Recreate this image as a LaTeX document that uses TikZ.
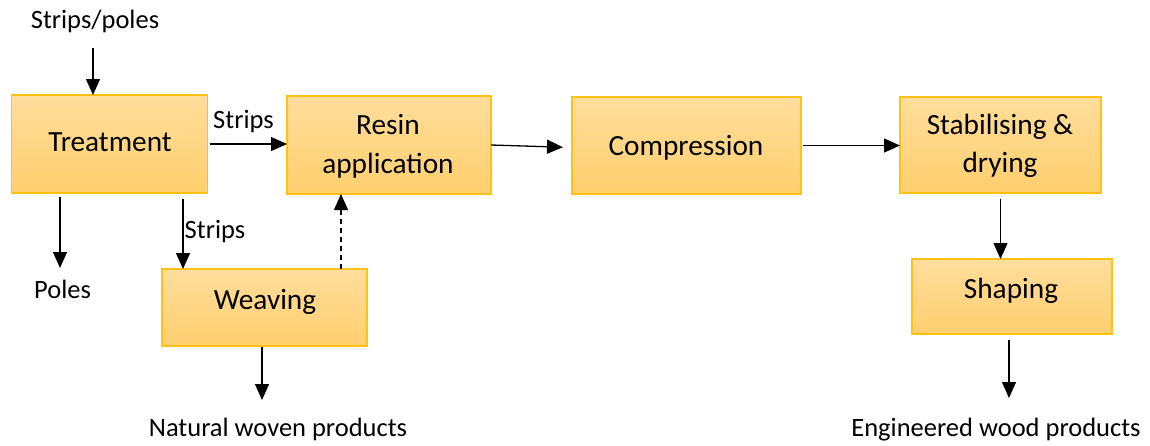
\documentclass[tikz,border=0pt]{standalone}
\usepackage{fontspec}
\setmainfont{Carlito}
\usetikzlibrary{arrows.meta,calc}
\definecolor{boxedge}{RGB}{255,194,20}
\definecolor{boxtop}{RGB}{255,221,156}
\definecolor{boxbot}{RGB}{255,207,110}
\begin{document}
\begin{tikzpicture}[x=1pt,y=-1pt,
  proc/.style={draw=boxedge, line width=1.2pt, top color=boxtop, bottom color=boxbot,
    inner sep=0pt, outer sep=0pt},
  boxtxt/.style={inner sep=0pt, anchor=base, align=center,
    font=\fontsize{29.3}{38.5}\selectfont},
  lbl/.style={inner sep=0pt, anchor=base, font=\fontsize{26.5}{30}\selectfont},
  arr/.style={line width=1.3pt, -{Triangle[length=16pt,width=14pt]}}]
\useasboundingbox (0,0) rectangle (1150,445);

% process boxes
\node[proc, minimum width=196pt, minimum height=98pt] (treat) at (109.5,144) {};
\node[proc, minimum width=204pt, minimum height=98pt] (resin) at (389,145) {};
\node[proc, minimum width=205pt, minimum height=77pt] (weave) at (264.5,307.5) {};
\node[proc, minimum width=229pt, minimum height=97pt] (comp) at (686.5,145.5) {};
\node[proc, minimum width=201pt, minimum height=96pt] (stab) at (1000.5,145) {};
\node[proc, minimum width=200pt, minimum height=75pt] (shape) at (1012,296.5) {};

% box texts, placed on the baseline of their last line
\node[boxtxt] (treatT) at (110,151) {Treatment};
\node[boxtxt] (resinT) at (388,173) {Resin\\application};
\node[boxtxt] (weaveT) at (265,309) {Weaving};
\node[boxtxt] (compT) at (686,155) {Compression};
\node[boxtxt] (stabT) at (1000,172.5) {Stabilising \&\\drying};
\node[boxtxt] (shapeT) at (1011,298) {Shaping};

% inputs, outputs and edge labels
\node[lbl] (sp) at (95,28.5) {Strips/poles};
\node[lbl] (poles) at (62.5,298.5) {Poles};
\node[lbl] (nat) at (278,436.5) {Natural woven products};
\node[lbl] (eng) at (996,436.5) {Engineered wood products};
\node[lbl] (s1) at (243.5,128.3) {Strips};
\node[lbl] (s2) at (215,238.3) {Strips};

% free ends of connectors
\coordinate (a0) at (93,48);
\coordinate (p0) at (60,197);
\coordinate (p1) at (60,268);
\coordinate (b0) at (183,199);
\coordinate (d0) at (341,269);
\coordinate (w1) at (262,400);
\coordinate (e1) at (1009,398);

% connectors
\draw[arr] (a0) -- (a0 |- treat.north);
\draw[arr, shorten <=2pt] (treat.east) -- (treat.east -| resin.west);
\draw[arr] (p0) -- (p1);
\draw[arr] (b0) -- (b0 |- weave.north);
\draw[arr, dashed, dash pattern=on 5pt off 4pt] (d0) -- (d0 |- resin.south);
\draw[arr, shorten <=1pt] (w1 |- weave.south) -- (w1);
\draw[arr, shorten >=9pt] (resin.east) -- ($(comp.west)+(0,2)$);
\draw[arr, shorten <=2pt] (comp.east) -- (comp.east -| stab.west);
\draw[arr, shorten <=6pt] (stab.south) -- (stab.south |- shape.north);
\draw[arr, shorten <=6pt] (e1 |- shape.south) -- (e1);
\end{tikzpicture}
\end{document}
